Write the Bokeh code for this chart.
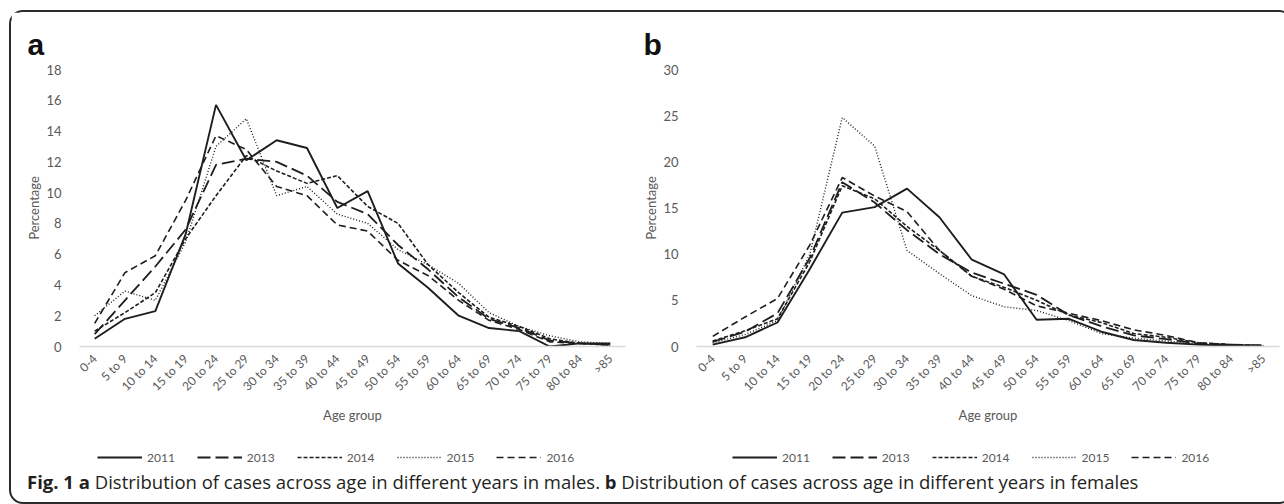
import math
from bokeh.plotting import figure
from bokeh.models import (Range1d, FactorRange, SingleIntervalTicker, Legend,
                          LegendItem, Title, Div)
from bokeh.layouts import column, row
from bokeh.embed import file_html
from bokeh.resources import INLINE

age_groups = ["0-4", "5 to 9", "10 to 14", "15 to 19", "20 to 24", "25 to 29",
              "30 to 34", "35 to 39", "40 to 44", "45 to 49", "50 to 54",
              "55 to 59", "60 to 64", "65 to 69", "70 to 74", "75 to 79",
              "80 to 84", ">85"]
years = ["2011", "2013", "2014", "2015", "2016"]

# Panel a: males (percentage)
males_2011 = [0.5, 1.8, 2.3, 7.3, 15.7, 12.1, 13.4, 12.9, 9.0, 10.1, 5.4, 3.8, 2.0, 1.2, 1.0, 0.0, 0.2, 0.2]
males_2013 = [0.8, 3.0, 5.2, 7.6, 11.8, 12.2, 12.0, 11.1, 9.4, 8.6, 6.6, 5.0, 3.2, 1.8, 1.2, 0.4, 0.2, 0.1]
males_2014 = [1.0, 2.2, 3.5, 7.0, 9.8, 12.4, 11.4, 10.6, 11.1, 9.1, 8.0, 5.3, 3.5, 1.9, 1.3, 0.5, 0.2, 0.1]
males_2015 = [2.0, 3.6, 3.0, 6.8, 13.0, 14.8, 9.8, 10.4, 8.6, 8.0, 6.3, 5.3, 4.1, 2.2, 1.3, 0.7, 0.3, 0.2]
males_2016 = [1.5, 4.8, 5.9, 9.5, 13.7, 12.8, 10.4, 9.8, 7.9, 7.5, 5.6, 4.6, 3.0, 1.7, 1.1, 0.3, 0.2, 0.1]

# Panel b: females (percentage)
females_2011 = [0.2, 1.0, 2.6, 8.4, 14.5, 15.1, 17.1, 14.0, 9.4, 7.8, 2.9, 3.0, 1.6, 0.7, 0.4, 0.2, 0.1, 0.0]
females_2013 = [0.5, 1.6, 3.6, 9.6, 17.8, 15.6, 12.6, 10.0, 8.0, 6.8, 5.6, 3.4, 2.2, 1.2, 0.8, 0.3, 0.2, 0.1]
females_2014 = [0.6, 1.7, 3.0, 9.2, 17.4, 16.0, 13.0, 10.4, 7.6, 6.4, 5.0, 3.4, 2.6, 1.4, 1.0, 0.4, 0.2, 0.1]
females_2015 = [0.4, 1.3, 2.8, 10.0, 24.8, 21.7, 10.4, 7.9, 5.5, 4.3, 3.9, 2.8, 1.4, 0.9, 0.6, 0.2, 0.1, 0.0]
females_2016 = [1.1, 3.2, 5.2, 11.0, 18.3, 16.3, 14.6, 10.4, 7.6, 6.2, 4.4, 3.6, 2.8, 1.8, 1.2, 0.4, 0.2, 0.1]

males = [males_2011, males_2013, males_2014, males_2015, males_2016]
females = [females_2011, females_2013, females_2014, females_2015, females_2016]

caption_html = ('<b>Fig. 1</b> <b>a</b> Distribution of cases across age in different years in males. '
                '<b>b</b> Distribution of cases across age in different years in females')

LINE_COLOR = "#1e1e1e"
GRAY = "#595959"
FONT = "Lato"
dashes = ["solid", "13 5", "4 2", "1 2", "7 4"]
widths = [1.9, 1.8, 1.6, 1.4, 1.6]


def make_panel(series, ymax, interval, letter, letter_offset, frame_width, b_left, b_right):
    p = figure(x_range=FactorRange(*age_groups), y_range=Range1d(0, ymax),
               frame_width=frame_width, frame_height=277,
               min_border_left=b_left, min_border_right=b_right,
               min_border_top=57, min_border_bottom=90,
               output_backend="svg", toolbar_location=None)
    p.outline_line_color = None
    p.xgrid.visible = False
    p.ygrid.visible = False
    p.background_fill_color = "white"
    p.border_fill_color = "white"

    p.title = Title(text=letter, align="left", offset=letter_offset,
                    text_font="Liberation Sans", text_font_style="bold",
                    text_font_size="30px", text_color="#111111", standoff=18)

    for yr, vals, dash, w in zip(years, series, dashes, widths):
        p.line(x=age_groups, y=vals, line_color=LINE_COLOR, line_width=w,
               line_dash=dash)

    xa = p.xaxis[0]
    xa.axis_line_color = "#d9d9d9"
    xa.axis_line_width = 1.5
    xa.major_tick_line_color = None
    xa.minor_tick_line_color = None
    xa.major_label_orientation = math.pi / 4
    xa.major_label_text_font = FONT
    xa.major_label_text_font_size = "12px"
    xa.major_label_text_color = GRAY
    xa.major_label_standoff = 4
    xa.axis_label = "Age group"
    xa.axis_label_text_font = FONT
    xa.axis_label_text_font_style = "normal"
    xa.axis_label_text_font_size = "13px"
    xa.axis_label_text_color = GRAY
    xa.axis_label_standoff = 5

    ya = p.yaxis[0]
    ya.ticker = SingleIntervalTicker(interval=interval)
    ya.axis_line_color = None
    ya.major_tick_line_color = None
    ya.minor_tick_line_color = None
    ya.major_label_text_font = FONT
    ya.major_label_text_font_size = "13px"
    ya.major_label_text_color = GRAY
    ya.major_label_standoff = 12
    ya.axis_label = "Percentage"
    ya.axis_label_text_font = FONT
    ya.axis_label_text_font_style = "normal"
    ya.axis_label_text_font_size = "13px"
    ya.axis_label_text_color = GRAY
    ya.axis_label_standoff = 1
    return p


def make_legend(series, frame_width, b_left, b_right, legend_x):
    # Legend strip: the series are drawn again but outside the visible y range,
    # so that only the legend (its samples and labels) shows.
    lf = figure(x_range=FactorRange(*age_groups), y_range=Range1d(-2, -1),
                frame_width=frame_width, frame_height=32,
                min_border_left=b_left, min_border_right=b_right,
                min_border_top=0, min_border_bottom=0,
                x_axis_type=None, y_axis_type=None,
                output_backend="svg", toolbar_location=None)
    lf.outline_line_color = None
    lf.border_fill_color = "white"
    lf.background_fill_color = "white"
    items = []
    for yr, vals, dash, w in zip(years, series, dashes, widths):
        r = lf.line(x=age_groups, y=vals, line_color=LINE_COLOR, line_width=w,
                    line_dash=dash)
        items.append(LegendItem(label=yr, renderers=[r]))
    legend = Legend(items=items, orientation="horizontal", location=(legend_x, 3),
                    border_line_color=None, background_fill_alpha=0,
                    label_text_font=FONT, label_text_font_size="12px",
                    label_text_color=GRAY, glyph_width=45, glyph_height=16,
                    label_standoff=5, spacing=22, padding=0, margin=0)
    lf.add_layout(legend)
    return lf


pa = make_panel(males, 18, 2, "a", -52, 546, 68, 15)
pb = make_panel(females, 30, 5, "b", -53, 583, 55, 3)
la = make_legend(males, 546, 68, 15, 18)
lb = make_legend(females, 583, 55, 3, 36)

cap = Div(text=('<div style="margin-top:0px; margin-left:11px; white-space:nowrap; '
                'font-family:\'Open Sans\'; font-size:18.5px; color:#231f20; line-height:1;">'
                + caption_html + '</div>'),
          width=1270, height=24)

layout = column(row(column(pa, la), column(pb, lb)), cap,
                styles={"border": "2px solid #2b2b2b", "border-radius": "14px",
                        "background-color": "white",
                        "margin": "10px 1px 0px 9px"})

open("out.html", "w").write(file_html(layout, INLINE))
